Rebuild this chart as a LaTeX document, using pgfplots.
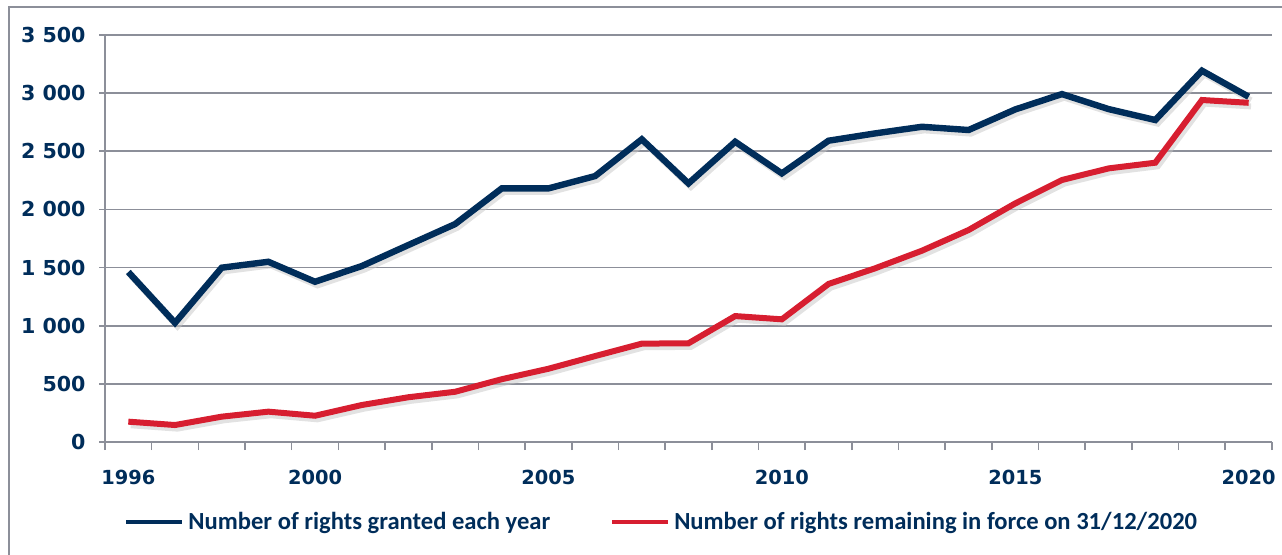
\documentclass[border=0pt]{standalone}
\usepackage{fontspec}
\setmainfont{Carlito}
\newfontfamily\dejavu{DejaVu Sans}
\usepackage{pgfplots}
\pgfplotsset{compat=1.18}
\definecolor{navy}{RGB}{0,45,90}
\definecolor{redl}{RGB}{215,30,48}
\definecolor{gridg}{RGB}{140,143,153}
\begin{document}
\begin{tikzpicture}
\useasboundingbox (-52.5pt,-56pt) rectangle (588.5pt,221pt);
\draw[gridg, line width=0.8pt] (-48pt,-70pt) -- (-48pt,217.5pt) -- (600pt,217.5pt);
\begin{axis}[
  at={(0pt,0pt)}, anchor=origin,
  scale only axis,
  width=583.5pt, height=203.5pt,
  xmin=1995.5, xmax=2020.5,
  ymin=0, ymax=3500,
  axis x line*=bottom, axis y line*=left,
  axis line style={gridg, line width=0.8pt},
  xtick={1996,2000,2005,2010,2015,2020},
  xticklabels={1996,2000,2005,2010,2015,2020},
  minor xtick={1995.5,1996.5,...,2020.5},
  major x tick style={draw=none},
  minor x tick style={gridg, line width=0.8pt},
  minor tick length=4pt,
  ytick={0,500,...,3500},
  major tick length=3pt,
  y tick style={gridg, line width=0.8pt},
  tick align=outside,
  ymajorgrids,
  grid style={gridg, line width=0.8pt},
  /pgf/number format/assume math mode=true,
  /pgf/number format/1000 sep={\ },
  yticklabel style={font=\dejavu\bfseries\fontsize{10.3}{12}\selectfont, text=navy, xshift=-3.2pt},
  xticklabel style={font=\dejavu\bfseries\fontsize{9.7}{11}\selectfont, text=navy, yshift=-7.5pt},
  legend columns=2,
  legend style={at={(0.478,-0.197)}, anchor=center, draw=none, fill=none,
    font=\bfseries\fontsize{12.3}{14}\selectfont, text=navy,
    /tikz/every even column/.append style={column sep=28pt},
    inner sep=0pt},
  legend cell align=left,
  clip=false,
]
% shadows
\addplot[forget plot, gray!45, opacity=0.5, line width=3pt, xshift=1.2pt, yshift=-1.8pt] coordinates {
(1996,1462)(1997,1025)(1998,1499)(1999,1550)(2000,1378)(2001,1513)(2002,1694)(2003,1874)(2004,2181)(2005,2181)(2006,2287)(2007,2603)(2008,2224)(2009,2582)(2010,2310)(2011,2591)(2012,2654)(2013,2711)(2014,2683)(2015,2860)(2016,2992)(2017,2863)(2018,2769)(2019,3193)(2020,2969)
};
\addplot[forget plot, gray!45, opacity=0.5, line width=3pt, xshift=1.2pt, yshift=-1.8pt] coordinates {
(1996,175)(1997,146)(1998,218)(1999,261)(2000,226)(2001,318)(2002,385)(2003,432)(2004,540)(2005,630)(2006,739)(2007,846)(2008,849)(2009,1083)(2010,1055)(2011,1359)(2012,1494)(2013,1645)(2014,1823)(2015,2052)(2016,2253)(2017,2353)(2018,2402)(2019,2941)(2020,2917)
};
\addplot[navy, line width=3.2pt, line join=miter, legend image code/.code={\draw[navy, line width=2pt] (0pt,0pt) -- (28pt,0pt);}] coordinates {
(1996,1462)(1997,1025)(1998,1499)(1999,1550)(2000,1378)(2001,1513)(2002,1694)(2003,1874)(2004,2181)(2005,2181)(2006,2287)(2007,2603)(2008,2224)(2009,2582)(2010,2310)(2011,2591)(2012,2654)(2013,2711)(2014,2683)(2015,2860)(2016,2992)(2017,2863)(2018,2769)(2019,3193)(2020,2969)
};
\addlegendentry{Number of rights granted each year}
\addplot[redl, line width=3pt, line join=miter, legend image code/.code={\draw[redl, line width=2pt] (0pt,0pt) -- (28pt,0pt);}] coordinates {
(1996,175)(1997,146)(1998,218)(1999,261)(2000,226)(2001,318)(2002,385)(2003,432)(2004,540)(2005,630)(2006,739)(2007,846)(2008,849)(2009,1083)(2010,1055)(2011,1359)(2012,1494)(2013,1645)(2014,1823)(2015,2052)(2016,2253)(2017,2353)(2018,2402)(2019,2941)(2020,2917)
};
\addlegendentry{Number of rights remaining in force on 31/12/2020}
\end{axis}
\end{tikzpicture}
\end{document}
